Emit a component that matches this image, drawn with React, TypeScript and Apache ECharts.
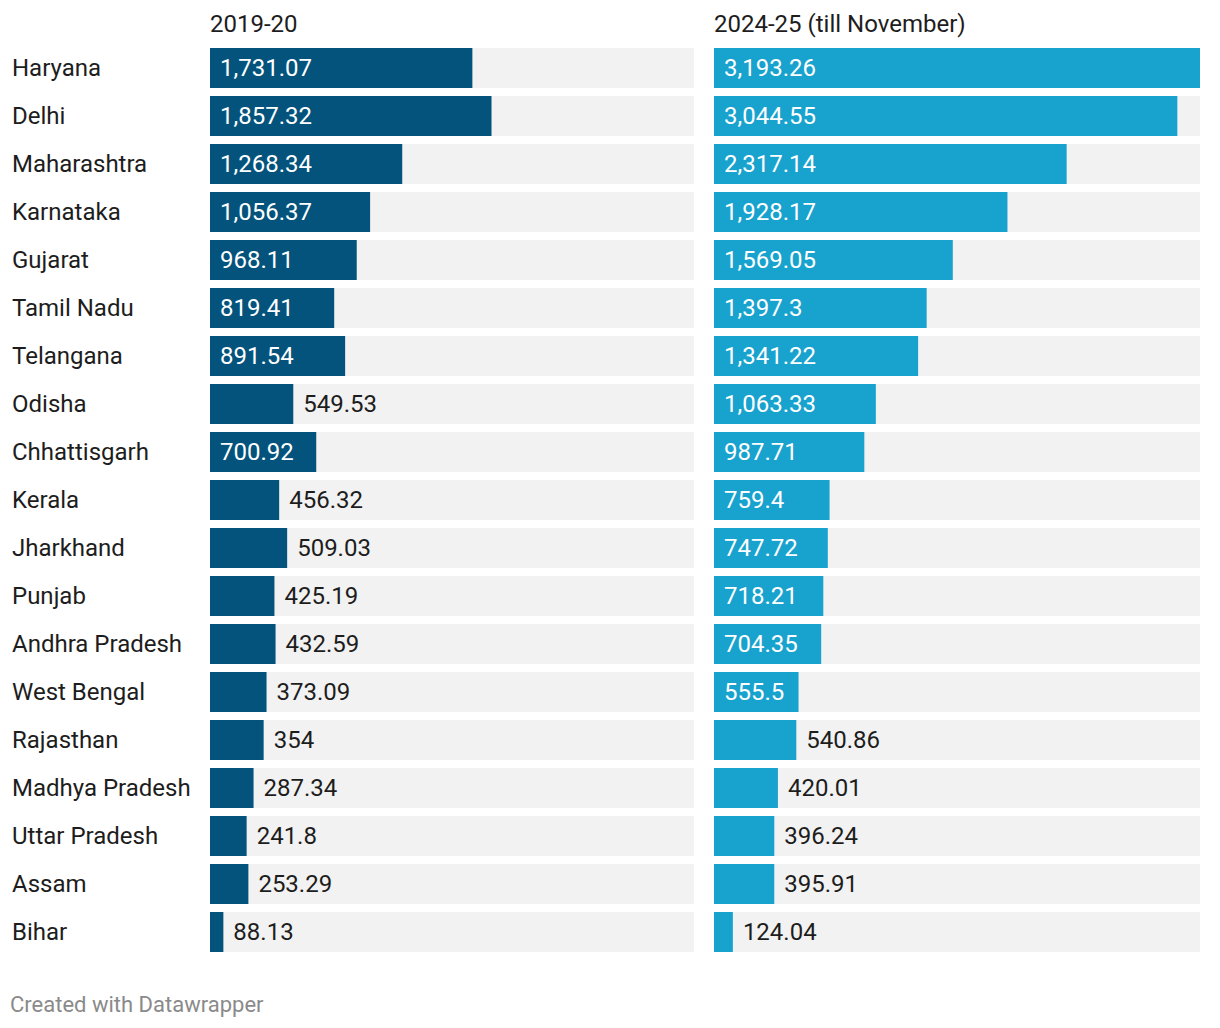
import React, { useEffect, useRef } from "react";
import * as echarts from "echarts";

const states = [
  "Haryana", "Delhi", "Maharashtra", "Karnataka", "Gujarat", "Tamil Nadu", "Telangana",
  "Odisha", "Chhattisgarh", "Kerala", "Jharkhand", "Punjab", "Andhra Pradesh",
  "West Bengal", "Rajasthan", "Madhya Pradesh", "Uttar Pradesh", "Assam", "Bihar",
];
const values2019 = [
  1731.07, 1857.32, 1268.34, 1056.37, 968.11, 819.41, 891.54, 549.53, 700.92, 456.32,
  509.03, 425.19, 432.59, 373.09, 354, 287.34, 241.8, 253.29, 88.13,
];
const values2024 = [
  3193.26, 3044.55, 2317.14, 1928.17, 1569.05, 1397.3, 1341.22, 1063.33, 987.71, 759.4,
  747.72, 718.21, 704.35, 555.5, 540.86, 420.01, 396.24, 395.91, 124.04,
];
const panelTitles = ["2019-20", "2024-25 (till November)"];
const footer = "Created with Datawrapper";

const FONT = "Roboto";
const FS = 24;
const MAXV = 3193.26;

function fmt(v: number) {
  return v.toLocaleString("en-US", { maximumFractionDigits: 2 });
}

let ctx: CanvasRenderingContext2D | null = null;
function textW(s: string) {
  if (!ctx) ctx = document.createElement("canvas").getContext("2d");
  ctx!.font = `${FS}px ${FONT}`;
  return ctx!.measureText(s).width;
}

function buildData(vals: number[], gridW: number) {
  return vals.map((v) => {
    const px = (v / MAXV) * gridW;
    const inside = px >= textW(fmt(v)) + 18;
    return {
      value: v,
      label: inside
        ? { position: "insideLeft", color: "#ffffff", distance: 10 }
        : { position: "right", color: "#1d1d1d", distance: 10 },
    };
  });
}

export default function App() {
  const ref = useRef<HTMLDivElement>(null);
  useEffect(() => {
    const chart = echarts.init(ref.current!, null, { renderer: "svg" });
    const top = 44;
    const h = 48 * states.length;
    const grids = [
      { left: 210, width: 484, top, height: h },
      { left: 714, width: 486, top, height: h },
    ];
    const colors = ["#03537c", "#18a2ce"];
    const all = [values2019, values2024];
    chart.setOption({
      animation: false,
      grid: grids,
      xAxis: grids.map((_, i) => ({
        type: "value",
        gridIndex: i,
        min: 0,
        max: MAXV,
        show: false,
      })),
      yAxis: grids.map((_, i) => ({
        type: "category",
        gridIndex: i,
        data: states,
        inverse: true,
        axisLine: { show: false },
        axisTick: { show: false },
        axisLabel: {
          show: i === 0,
          align: "left",
          margin: 198,
          fontFamily: FONT,
          fontSize: FS,
          color: "#1d1d1d",
        },
      })),
      series: all.map((vals, i) => ({
        type: "bar",
        xAxisIndex: i,
        yAxisIndex: i,
        barWidth: 40,
        data: buildData(vals, grids[i].width),
        itemStyle: { color: colors[i] },
        showBackground: true,
        backgroundStyle: { color: "#f2f2f2" },
        label: {
          show: true,
          fontFamily: FONT,
          fontSize: FS,
          formatter: (p: any) => fmt(p.value),
        },
      })),
      graphic: [
        ...panelTitles.map((t, i) => ({
          type: "text",
          x: grids[i].left,
          y: 24,
          style: {
            text: t,
            font: `${FS}px ${FONT}`,
            fill: "#1d1d1d",
            verticalAlign: "middle",
          },
        })),
        {
          type: "text",
          x: 10,
          y: 1004,
          style: {
            text: footer,
            font: `22px ${FONT}`,
            fill: "#8a8a8a",
            verticalAlign: "middle",
          },
        },
      ],
    });
    return () => chart.dispose();
  }, []);
  return <div ref={ref} style={{ width: 1220, height: 1028, position: "absolute", left: 0, top: 0 }} />;
}
